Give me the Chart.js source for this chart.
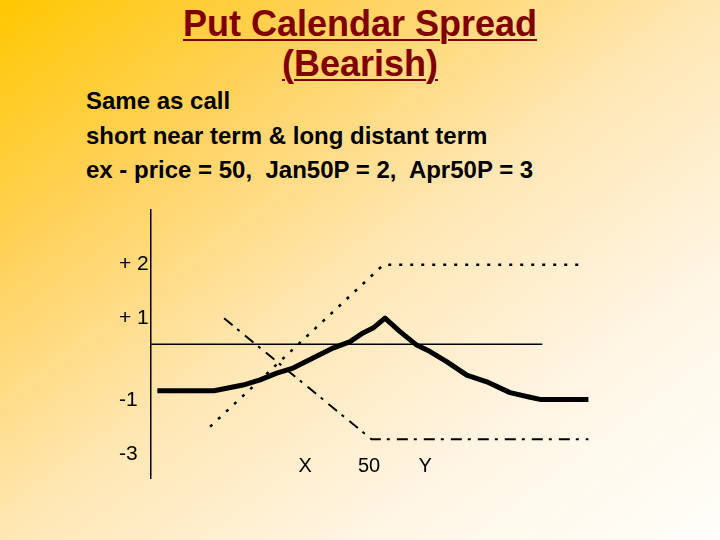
<!DOCTYPE html>
<html>
<head>
<meta charset="utf-8">
<script src="https://cdn.jsdelivr.net/npm/chart.js@4.4.1/dist/chart.umd.min.js"></script>
<style>
    html, body { margin: 0; padding: 0; }
    body {
        width: 720px; height: 540px; position: relative; overflow: hidden;
        background: linear-gradient(to bottom right, #ffc800 0%, #ffd25e 25%, #ffe7b4 50%, #fff5e4 75%, #fffefa 100%);
        font-family: "Liberation Sans", Arial, sans-serif;
    }
    .title {
        position: absolute; left: 0; top: 4px; width: 720px; text-align: center;
        font-weight: bold; font-size: 36px; line-height: 40px; color: #800000;
        text-decoration: underline; text-decoration-thickness: 2px; text-underline-offset: 3px;
    }
    .notes {
        position: absolute; left: 86px; top: 84px;
        font-weight: bold; font-size: 24px; line-height: 34.5px; color: #000;
    }
    canvas { position: absolute; left: 0; top: 0; }
</style>
</head>
<body>
<div class="title">Put Calendar Spread<br>(Bearish)</div>
<div class="notes">
    Same as call<br>
    short near term &amp; long distant term<br>
    ex - price = 50,&nbsp; Jan50P = 2,&nbsp; Apr50P = 3
</div>
<canvas id="chart" width="720" height="540"></canvas>
<script>
// x: stock price, y: profit (diagram units)
const xTicks = [44.67, 50, 54.67];
const xTickLabels = ['X', '50', 'Y'];
const yTicks = [2.97, 0.97, -2.06, -4.06];
const yTickLabels = ['+ 2', '+ 1', '-1', '-3'];

const zeroX = [31.83, 64.44];
const zeroY = [0, 0];

const nearX = [36.75, 51.19, 67.86];
const nearY = [-3.05, 2.94, 2.94];

const farX = [37.92, 50.22, 68.28];
const farY = [0.96, -3.52, -3.52];

const spreadX = [32.36, 37.08, 39.5, 40.92, 42.31, 43.67, 45.33, 47.0, 48.42, 49.5, 50.33, 51.33,
    52.58, 53.97, 55.08, 56.47, 58.14, 59.81, 61.75, 63.42, 64.25, 68.28];
const spreadY = [-1.72, -1.72, -1.51, -1.32, -1.07, -0.88, -0.51, -0.14, 0.10, 0.42, 0.60, 0.97,
    0.47, -0.03, -0.27, -0.64, -1.14, -1.39, -1.79, -1.96, -2.04, -2.04];

function toPoints(xs, ys) {
    return xs.map((x, i) => ({ x: x, y: ys[i] }));
}

function lineSet(xs, ys, width, dash) {
    return {
        data: toPoints(xs, ys),
        showLine: true,
        borderColor: '#000',
        borderWidth: width,
        borderDash: dash,
        pointRadius: 0,
        tension: 0,
        borderJoinStyle: 'round',
        borderCapStyle: 'butt'
    };
}

const ctx = document.getElementById('chart').getContext('2d');
new Chart(ctx, {
    type: 'scatter',
    data: {
        datasets: [
            lineSet(zeroX, zeroY, 1.5, []),
            lineSet(nearX, nearY, 2.5, [3, 8]),
            lineSet(farX, farY, 2, [11, 6, 3, 7]),
            lineSet(spreadX, spreadY, 5, [])
        ]
    },
    options: {
        responsive: false,
        animation: false,
        devicePixelRatio: 1,
        layout: { padding: { left: 119, top: 210, right: 128, bottom: 62 } },
        plugins: { legend: { display: false }, tooltip: { enabled: false } },
        scales: {
            x: {
                type: 'linear',
                min: 31.83,
                max: 68.58,
                position: { y: -3.8 },
                grid: { display: false },
                border: { display: false },
                afterBuildTicks: scale => { scale.ticks = xTicks.map(v => ({ value: v })); },
                ticks: {
                    padding: 0,
                    color: '#000',
                    font: { family: 'Liberation Sans', size: 20 },
                    callback: (v) => xTickLabels[xTicks.indexOf(v)]
                }
            },
            y: {
                type: 'linear',
                min: -4.95,
                max: 4.97,
                grid: { display: false },
                border: { display: true, color: '#000', width: 1.5 },
                afterFit: scale => { scale.width = 32; },
                afterBuildTicks: scale => { scale.ticks = yTicks.map(v => ({ value: v })); },
                ticks: {
                    crossAlign: 'far',
                    color: '#000',
                    font: { family: 'Liberation Sans', size: 21 },
                    callback: (v) => yTickLabels[yTicks.indexOf(v)]
                }
            }
        }
    }
});
</script>
</body>
</html>
